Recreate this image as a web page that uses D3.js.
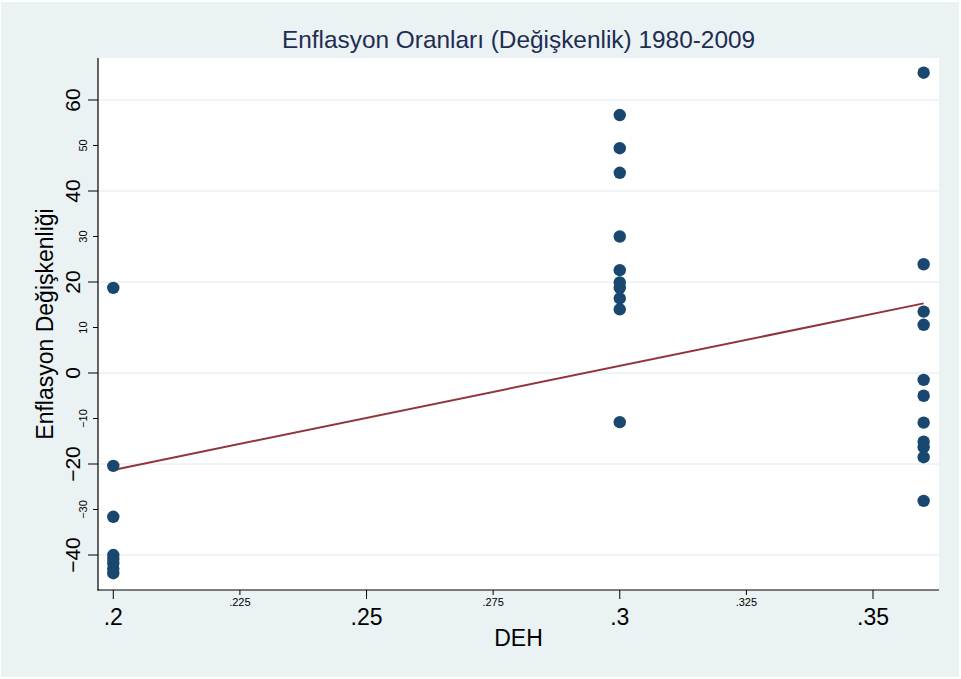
<!DOCTYPE html>
<html>
<head>
<meta charset="utf-8">
<script src="https://cdn.jsdelivr.net/npm/d3@7"></script>
<style>
  html, body { margin: 0; padding: 0; background: #ffffff; }
  svg { display: block; }
  text { font-family: "Liberation Sans", Arial, sans-serif; }
</style>
</head>
<body>
<svg id="chart" width="961" height="679"></svg>
<script>
// ---- data ----
const title = "Enflasyon Oranları (Değişkenlik) 1980-2009";
const xTitle = "DEH";
const yTitle = "Enflasyon Değişkenliği";

const dehLow  = [0.2, 0.2, 0.2, 0.2, 0.2, 0.2, 0.2, 0.2];
const enfLow  = [18.7, -20.4, -31.6, -40.0, -40.9, -41.8, -43.0, -44.0];
const dehMid  = [0.3, 0.3, 0.3, 0.3, 0.3, 0.3, 0.3, 0.3, 0.3, 0.3];
const enfMid  = [56.7, 49.4, 44.0, 30.0, 22.6, 19.9, 18.7, 16.4, 14.0, -10.8];
const dehHigh = [0.36, 0.36, 0.36, 0.36, 0.36, 0.36, 0.36, 0.36, 0.36, 0.36, 0.36];
const enfHigh = [66.0, 23.9, 13.5, 10.6, -1.5, -5.0, -10.9, -15.1, -16.3, -18.5, -28.1];

// fitted line end points
const fitX = [0.2, 0.36];
const fitY = [-21.3, 15.3];

const xMajorTicks = [0.2, 0.25, 0.3, 0.35];
const xMajorLabels = [".2", ".25", ".3", ".35"];
const xMinorTicks = [0.225, 0.275, 0.325];
const xMinorLabels = [".225", ".275", ".325"];
const yMajorTicks = [-40, -20, 0, 20, 40, 60];
const yMinorTicks = [-30, -10, 10, 30, 50];

// ---- layout ----
const W = 961, H = 679;
const plot = { left: 98, right: 939, top: 58, bottom: 590 };
const colBg = "#eaf2f3", colMarker = "#1a476f", colFit = "#90353b", colText = "#000000";

const svg = d3.select("#chart");

svg.append("rect").attr("x", 1).attr("y", 2).attr("width", W - 3).attr("height", H - 4)
  .attr("fill", colBg);

const x = d3.scaleLinear().domain([0.19698, 0.36303]).range([plot.left, plot.right]);
const y = d3.scaleLinear().domain([-47.69, 69.23]).range([plot.bottom, plot.top]);

// plot region
svg.append("rect")
  .attr("x", plot.left).attr("y", plot.top)
  .attr("width", plot.right - plot.left).attr("height", plot.bottom - plot.top)
  .attr("fill", "#ffffff");

// gridlines
svg.append("g").selectAll("line").data(yMajorTicks).join("line")
  .attr("x1", plot.left).attr("x2", plot.right)
  .attr("y1", d => y(d)).attr("y2", d => y(d))
  .attr("stroke", colBg).attr("stroke-width", 1.6);

// fit line
const fitData = fitX.map((d, i) => [d, fitY[i]]);
svg.append("path").datum(fitData)
  .attr("d", d3.line().x(d => x(d[0])).y(d => y(d[1])))
  .attr("fill", "none").attr("stroke", colFit).attr("stroke-width", 2);

// points
const pts = [];
[[dehLow, enfLow], [dehMid, enfMid], [dehHigh, enfHigh]].forEach(([xs, ys]) => {
  xs.forEach((v, i) => pts.push([v, ys[i]]));
});
svg.append("g").selectAll("circle").data(pts).join("circle")
  .attr("cx", d => x(d[0])).attr("cy", d => y(d[1])).attr("r", 6.2)
  .attr("fill", colMarker);

// axes lines
svg.append("line").attr("x1", plot.left).attr("x2", plot.left)
  .attr("y1", plot.top).attr("y2", plot.bottom + 0.5).attr("stroke", "#000").attr("stroke-width", 1.2);
svg.append("line").attr("x1", plot.left - 0.5).attr("x2", plot.right)
  .attr("y1", plot.bottom).attr("y2", plot.bottom).attr("stroke", "#000").attr("stroke-width", 1.2);

// x ticks
const xAxisG = svg.append("g");
xAxisG.selectAll("line.maj").data(xMajorTicks).join("line").attr("class", "maj")
  .attr("x1", d => x(d)).attr("x2", d => x(d))
  .attr("y1", plot.bottom).attr("y2", plot.bottom + 9)
  .attr("stroke", "#000").attr("stroke-width", 1);
xAxisG.selectAll("line.min").data(xMinorTicks).join("line").attr("class", "min")
  .attr("x1", d => x(d)).attr("x2", d => x(d))
  .attr("y1", plot.bottom).attr("y2", plot.bottom + 5)
  .attr("stroke", "#000").attr("stroke-width", 1);
xAxisG.selectAll("text.maj").data(xMajorTicks).join("text").attr("class", "maj")
  .attr("x", d => x(d)).attr("y", 625)
  .attr("text-anchor", "middle").attr("font-size", 23).attr("fill", colText)
  .text((d, i) => xMajorLabels[i]);
xAxisG.selectAll("text.min").data(xMinorTicks).join("text").attr("class", "min")
  .attr("x", d => x(d)).attr("y", 606)
  .attr("text-anchor", "middle").attr("font-size", 11).attr("fill", colText)
  .text((d, i) => xMinorLabels[i]);

// y ticks
const yAxisG = svg.append("g");
yAxisG.selectAll("line.maj").data(yMajorTicks).join("line").attr("class", "maj")
  .attr("x1", plot.left - 10).attr("x2", plot.left)
  .attr("y1", d => y(d)).attr("y2", d => y(d))
  .attr("stroke", "#000").attr("stroke-width", 1);
yAxisG.selectAll("line.min").data(yMinorTicks).join("line").attr("class", "min")
  .attr("x1", plot.left - 5).attr("x2", plot.left)
  .attr("y1", d => y(d)).attr("y2", d => y(d))
  .attr("stroke", "#000").attr("stroke-width", 1);
yAxisG.selectAll("text.maj").data(yMajorTicks).join("text").attr("class", "maj")
  .attr("transform", d => `translate(80,${y(d)}) rotate(-90)`)
  .attr("text-anchor", "middle").attr("font-size", 21).attr("fill", colText)
  .text(d => d3.format("d")(d));
yAxisG.selectAll("text.min").data(yMinorTicks).join("text").attr("class", "min")
  .attr("transform", d => `translate(87,${y(d)}) rotate(-90)`)
  .attr("text-anchor", "middle").attr("font-size", 11).attr("fill", colText)
  .text(d => d3.format("d")(d));

// titles
svg.append("text").attr("x", (plot.left + plot.right) / 2).attr("y", 48)
  .attr("text-anchor", "middle").attr("font-size", 24.4).attr("fill", "#1e2d52")
  .text(title);
svg.append("text").attr("x", (plot.left + plot.right) / 2).attr("y", 646)
  .attr("text-anchor", "middle").attr("font-size", 23).attr("fill", colText)
  .text(xTitle);
svg.append("text")
  .attr("transform", `translate(53,${(plot.top + plot.bottom) / 2}) rotate(-90)`)
  .attr("text-anchor", "middle").attr("font-size", 23).attr("fill", colText)
  .text(yTitle);
</script>
</body>
</html>
